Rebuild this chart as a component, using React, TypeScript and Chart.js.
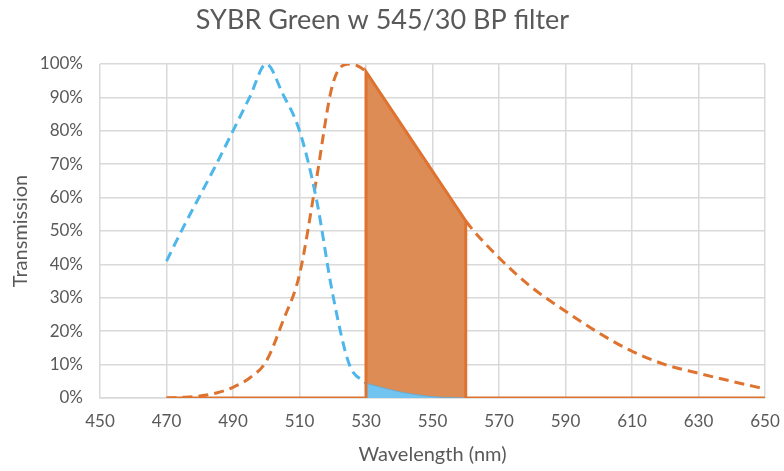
import React, { useEffect, useRef } from "react";
import { Chart, registerables } from "chart.js";

Chart.register(...registerables);

const TITLE = "SYBR Green w 545/30 BP filter";
const X_TITLE = "Wavelength (nm)";
const Y_TITLE = "Transmission";

// Excitation (blue dashed)
const excitationX = [470, 475, 480, 485, 490, 495, 500, 505, 510, 515, 520, 525, 530];
const excitationY = [41, 51, 60.5, 70, 80, 90, 100, 91, 80, 60, 31, 10, 4.4];

// Emission (orange dashed)
const emissionX = [470, 475, 480, 485, 490, 495, 500, 505, 510, 515, 520, 525, 530, 540, 550, 560, 570, 580, 590, 600, 610, 620, 630, 640, 650];
const emissionY = [0, 0.2, 0.6, 1.5, 3.2, 6, 11, 23, 37, 65, 94, 100, 97.7, 83, 68, 53, 42, 33, 26, 19.5, 14, 10, 7.4, 5, 2.7];

// Filter pass band (nm)
const bandStart = 530;
const bandEnd = 560;

// Emission through filter (orange solid, filled)
const filteredEmX = [470, 530, 530, 560, 560, 650];
const filteredEmY = [0, 0, 97.7, 53, 0, 0];

// Excitation leaking through filter (blue filled)
const filteredExX = [530, 540, 550, 560];
const filteredExY = [4.4, 1.9, 0.4, 0];

const pts = (xs: number[], ys: number[]) => xs.map((x, i) => ({ x, y: ys[i] }));

const ORANGE = "#DE7330";
const ORANGE_FILL = "#DE8C55";
const BLUE = "#4DB6EA";
const BLUE_FILL = "#72C4F0";
const TEXT = "#595959";
const GRID = "#D9D9D9";
const FONT = "Lato, 'Open Sans', sans-serif";

export default function App() {
  const ref = useRef<HTMLCanvasElement | null>(null);
  useEffect(() => {
    document.body.style.margin = "0";
    const ctx = ref.current!;
    const chart = new Chart(ctx, {
      type: "line",
      data: {
        datasets: [
          {
            label: "Filter outline",
            data: pts(filteredEmX, filteredEmY),
            borderColor: ORANGE,
            borderWidth: 3,
            pointRadius: 0,
            fill: false,
            tension: 0,
          },
          {
            label: "Filtered excitation",
            data: pts(filteredExX, filteredExY),
            borderColor: "#6FA8CC",
            borderWidth: 1,
            backgroundColor: BLUE_FILL,
            pointRadius: 0,
            fill: "origin",
            tension: 0.3,
          },
          {
            label: "Filtered emission",
            data: pts(filteredEmX, filteredEmY),
            borderWidth: 0,
            borderColor: "rgba(0,0,0,0)",
            backgroundColor: ORANGE_FILL,
            pointRadius: 0,
            fill: "origin",
            tension: 0,
          },
          {
            label: "Excitation",
            data: pts(excitationX, excitationY),
            borderColor: BLUE,
            borderWidth: 3,
            borderDash: [10, 6],
            pointRadius: 0,
            fill: false,
            cubicInterpolationMode: "monotone",
          },
          {
            label: "Emission",
            data: pts(emissionX, emissionY),
            borderColor: ORANGE,
            borderWidth: 3,
            borderDash: [10, 6],
            pointRadius: 0,
            fill: false,
            cubicInterpolationMode: "monotone",
            segment: {
              borderColor: (c: any) =>
                c.p0.parsed.x >= bandStart && c.p1.parsed.x <= bandEnd ? "rgba(0,0,0,0)" : undefined,
            },
          },
        ],
      },
      options: {
        animation: false,
        responsive: false,
        maintainAspectRatio: false,
        layout: { padding: { left: 0, right: 19, top: 0, bottom: 0 } },
        plugins: {
          legend: { display: false },
          tooltip: { enabled: false },
          title: {
            display: true,
            text: TITLE,
            color: TEXT,
            font: { family: FONT, size: 27, weight: "normal" },
            padding: { top: 4, bottom: 27.6 },
          },
        },
        scales: {
          x: {
            type: "linear",
            min: 450,
            max: 650,
            ticks: { stepSize: 20, color: TEXT, font: { family: FONT, size: 17 }, padding: 13, maxRotation: 0 },
            grid: { color: GRID, lineWidth: 1.5, drawTicks: false },
            border: { display: true, color: GRID, width: 1.5 },
            title: { display: true, text: X_TITLE, color: TEXT, font: { family: FONT, size: 20 }, padding: { top: 0, bottom: 4 } },
            afterFit: (s: any) => { s.height = 73; s.paddingRight = 0; s.paddingLeft = 0; },
          },
          y: {
            min: 0,
            max: 100,
            ticks: { stepSize: 10, color: TEXT, font: { family: FONT, size: 17 }, padding: 17, callback: (v: any) => v + "%" },
            grid: { color: GRID, lineWidth: 1.5, drawTicks: false },
            border: { display: false },
            title: { display: true, text: Y_TITLE, color: TEXT, font: { family: FONT, size: 20 }, padding: { top: 9, bottom: 0 } },
            afterFit: (s: any) => { s.width = 100; s.paddingTop = 0; s.paddingBottom = 0; },
          },
        },
      },
    } as any);
    return () => chart.destroy();
  }, []);
  return (
    <div style={{ width: 784, height: 471 }}>
      <canvas ref={ref} width={784} height={471} style={{ display: "block" }} />
    </div>
  );
}
